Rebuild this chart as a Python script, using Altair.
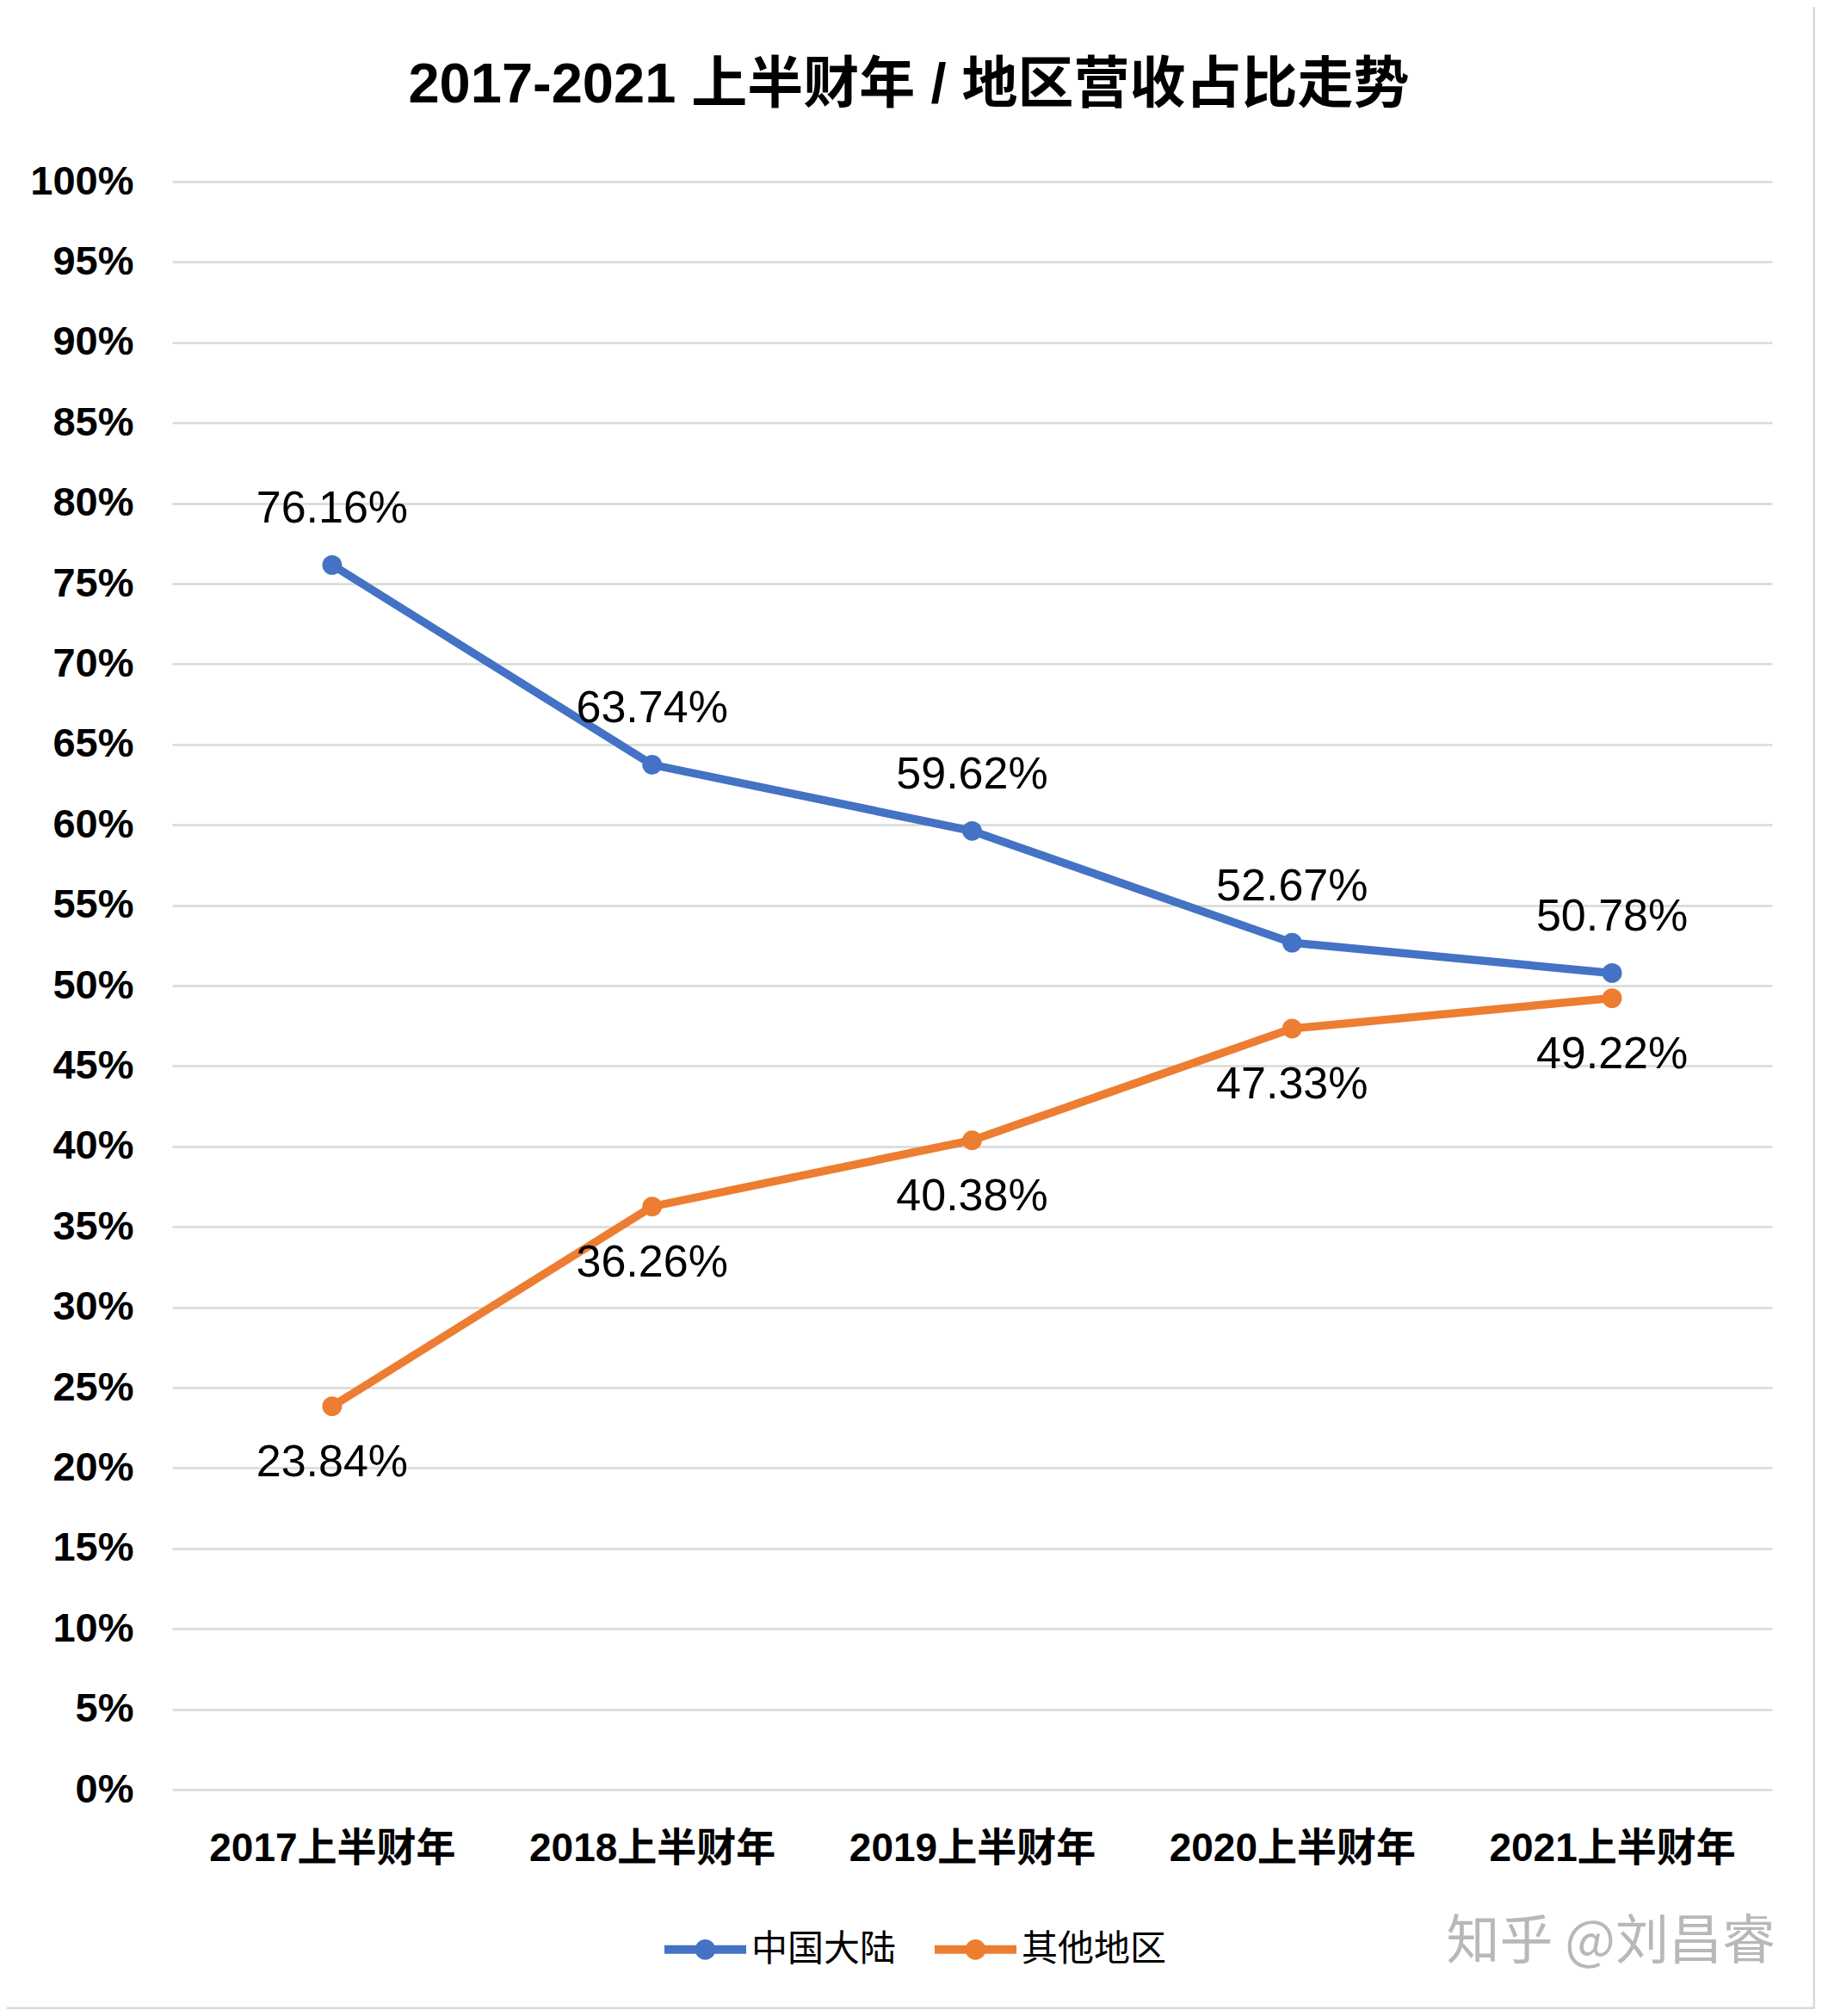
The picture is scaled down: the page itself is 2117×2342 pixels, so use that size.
import altair as alt
import pandas as pd

categories = ["2017上半财年", "2018上半财年", "2019上半财年", "2020上半财年", "2021上半财年"]
mainland = [0.7616, 0.6374, 0.5962, 0.5267, 0.5078]
other = [0.2384, 0.3626, 0.4038, 0.4733, 0.4922]
series = ["中国大陆", "其他地区"]
colors = ["#4472C4", "#ED7D31"]
y_ticks = [0, 0.05, 0.10, 0.15, 0.20, 0.25, 0.30, 0.35, 0.40, 0.45, 0.50,
           0.55, 0.60, 0.65, 0.70, 0.75, 0.80, 0.85, 0.90, 0.95, 1.0]
title_text = ["2017-2021 上半财年 / 地区营收占比走势"]
watermark = ["知乎 @刘昌睿"]

rows = []
for s, vals in zip(series, [mainland, other]):
    for c, v in zip(categories, vals):
        rows.append({"category": c, "series": s, "value": v})
df = pd.DataFrame(rows)

W, H = 1859, 1868
FONT = "Liberation Sans, Noto Sans CJK SC, sans-serif"
CJK = "Noto Sans CJK SC, Liberation Sans, sans-serif"

legend_path = ("M-1,-0.105L1,-0.105L1,0.105L-1,0.105Z "
               "M0.25,0A0.25,0.25,0,1,1,-0.25,0A0.25,0.25,0,1,1,0.25,0Z")

x_enc = alt.X("category:N", sort=categories, title=None,
              axis=alt.Axis(labelAngle=0, domain=False, ticks=False, grid=False,
                            labelFontSize=46, labelFontWeight="bold", labelPadding=46,
                            labelColor="#000000", labelFont=FONT, labelLimit=600))
y_enc = alt.Y("value:Q", title=None,
              scale=alt.Scale(domain=[0, 1], nice=False, zero=True),
              axis=alt.Axis(values=y_ticks, format=".0%", domain=False, ticks=False,
                            grid=True, gridColor="#d9d9d9", gridWidth=2.5,
                            labelFontSize=47, labelFontWeight="bold", labelPadding=45,
                            labelColor="#000000", labelFont=FONT))
color_enc = alt.Color("series:N", sort=series,
                      scale=alt.Scale(domain=series, range=colors),
                      legend=alt.Legend(title=None, orient="none", direction="horizontal",
                                        legendX=572, legendY=2006,
                                        symbolType=legend_path, symbolSize=9025,
                                        symbolStrokeWidth=0, labelFontSize=42,
                                        labelFont=CJK, labelColor="#000000",
                                        labelLimit=500,
                                        labelOffset=6, columnPadding=44))

base = alt.Chart(df)
line = base.mark_line(strokeWidth=9.5).encode(x=x_enc, y=y_enc, color=color_enc,
                                              detail="series:N")
pts = base.mark_circle(size=520, opacity=1).encode(x=x_enc, y=y_enc, color=color_enc)

label_top = base.transform_filter(alt.datum.series == series[0]).mark_text(
    dy=-65, fontSize=52, font=FONT, color="#000000").encode(
    x=x_enc, y=y_enc, text=alt.Text("value:Q", format=".2%"))
label_bot = base.transform_filter(alt.datum.series == series[1]).mark_text(
    dy=65, fontSize=52, font=FONT, color="#000000").encode(
    x=x_enc, y=y_enc, text=alt.Text("value:Q", format=".2%"))

wm = alt.Chart(pd.DataFrame({"t": watermark})).mark_text(
    align="right", baseline="middle", fontSize=62, font=CJK, color="#b8b8b8").encode(
    x=alt.value(1863), y=alt.value(2046), text="t:N")

title = alt.Chart(pd.DataFrame({"t": title_text})).mark_text(
    align="center", baseline="middle", fontSize=65, fontWeight="bold", font=FONT,
    color="#000000").encode(
    x=alt.value(856), y=alt.value(-112), text="t:N")

border = alt.Chart(pd.DataFrame({"t": watermark})).mark_rect(
    fillOpacity=0, stroke="#d9d9d9", strokeWidth=3).encode(
    x=alt.value(-195), x2=alt.value(1908), y=alt.value(-207), y2=alt.value(2122))

chart = alt.layer(border, line, pts, label_top, label_bot, wm, title).properties(
    width=W, height=H,
    background="white",
    autosize=alt.AutoSizeParams(type="none"),
    padding={"left": 192, "top": 203, "right": 50, "bottom": 255},
).configure_view(stroke="transparent", strokeWidth=0)

chart.save("out.html", embed_options={"renderer": "svg", "actions": False})
